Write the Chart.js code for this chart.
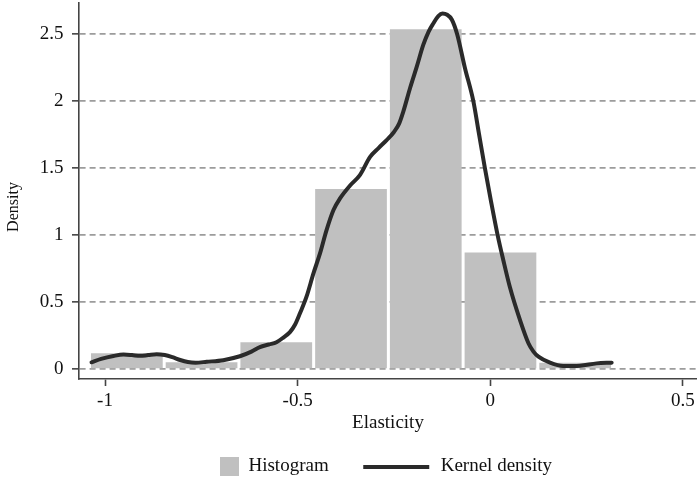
<!DOCTYPE html>
<html>
<head>
<meta charset="utf-8">
<script src="https://cdn.jsdelivr.net/npm/chart.js@4.4.0/dist/chart.umd.min.js"></script>
<style>
html,body{margin:0;padding:0;background:#fff;}
#wrap{width:697px;height:479px;}
</style>
</head>
<body>
<div id="wrap"><canvas id="c" width="697" height="479"></canvas></div>
<script>
// ---- data ----
const seriesNames = ['Histogram', 'Kernel density'];
const binCenters = [-0.9433, -0.7494, -0.5555, -0.3615, -0.1675, 0.0264, 0.2203];
const histDensity = [0.117, 0.050, 0.199, 1.344, 2.537, 0.869, 0.047];
const kdeX = [-1.035, -1.01, -0.978, -0.952, -0.93, -0.909, -0.888, -0.866, -0.845, -0.825,
  -0.805, -0.785, -0.765, -0.736, -0.693, -0.65, -0.62, -0.598, -0.575, -0.555,
  -0.537, -0.52, -0.507, -0.494, -0.477, -0.459, -0.442, -0.425, -0.407, -0.39,
  -0.364, -0.338, -0.312, -0.29, -0.269, -0.25, -0.237, -0.226, -0.208, -0.191,
  -0.174, -0.16, -0.148, -0.135, -0.124, -0.112, -0.1, -0.086, -0.066, -0.044,
  -0.029, -0.014, 0.002, 0.019, 0.034, 0.051, 0.077, 0.099, 0.112, 0.125,
  0.155, 0.189, 0.233, 0.276, 0.315];
const kdeY = [0.05, 0.075, 0.097, 0.108, 0.104, 0.098, 0.104, 0.110, 0.104, 0.088,
  0.067, 0.052, 0.047, 0.054, 0.066, 0.095, 0.13, 0.163, 0.183, 0.2,
  0.235, 0.275, 0.33, 0.416, 0.54, 0.714, 0.863, 1.037, 1.187, 1.274,
  1.37, 1.45, 1.584, 1.65, 1.709, 1.77, 1.83, 1.92, 2.1, 2.256,
  2.42, 2.52, 2.58, 2.635, 2.654, 2.645, 2.61, 2.5, 2.25, 2.0,
  1.75, 1.5, 1.25, 1.0, 0.81, 0.61, 0.366, 0.192, 0.13, 0.092,
  0.047, 0.022, 0.025, 0.042, 0.047];
const xTicks = [-1, -0.5, 0, 0.5];
const yTicks = [0, 0.5, 1, 1.5, 2, 2.5];
const xRange = [-1.0675, 0.5365];
const yRange = [-0.0747, 2.733];

// ---- styling ----
const BAR = '#c0c0c0';
const LINE = '#2a2a2a';
const AXIS = '#444444';
const TEXT = '#111111';

Chart.defaults.font.family = '"Liberation Serif", "Times New Roman", serif';
Chart.defaults.color = TEXT;

function makeSwatch(w, h, draw) {
  const c = document.createElement('canvas');
  c.width = w; c.height = h;
  draw(c.getContext('2d'));
  return c;
}
const SW = 94;
const histSwatch = makeSwatch(SW, 19, g => { g.fillStyle = BAR; g.fillRect(SW - 19, 0, 19, 19); });
const lineSwatch = makeSwatch(SW, 4, g => { g.fillStyle = LINE; g.fillRect(SW - 68, 0, 66, 4); });

// shift the y-axis title down along the axis (reference centres it lower)
function shiftYTitle(s) {
  if (s._titleShifted) return;
  const orig = s.drawTitle;
  s.drawTitle = function () {
    const t = this.top, b = this.bottom;
    this.top = t + 16; this.bottom = b + 16;
    orig.apply(this, arguments);
    this.top = t; this.bottom = b;
  };
  s._titleShifted = true;
}

new Chart(document.getElementById('c'), {
  type: 'bar',
  data: {
    datasets: [
      {
        type: 'bar',
        label: seriesNames[0],
        data: binCenters.map((x, i) => ({ x: x, y: histDensity[i] })),
        backgroundColor: BAR,
        borderWidth: 0,
        barPercentage: 0.96,
        categoryPercentage: 1,
        grouped: false,
        order: 2
      },
      {
        type: 'line',
        label: seriesNames[1],
        data: kdeX.map((x, i) => ({ x: x, y: kdeY[i] })),
        borderColor: LINE,
        backgroundColor: LINE,
        borderWidth: 4,
        pointRadius: 0,
        fill: false,
        cubicInterpolationMode: 'monotone',
        borderJoinStyle: 'round',
        borderCapStyle: 'round',
        order: 1
      }
    ]
  },
  options: {
    responsive: false,
    animation: false,
    layout: { padding: { top: 3, left: 0, right: 0, bottom: -7 }, autoPadding: false },
    scales: {
      x: {
        type: 'linear',
        min: xRange[0], max: xRange[1],
        offset: false,
        afterBuildTicks: s => { s.ticks = xTicks.map(v => ({ value: v })); },
        afterFit: s => { s.height = 69.5; s.paddingLeft = 0; s.paddingRight = 0; },
        grid: { display: true, offset: false, drawOnChartArea: false, drawTicks: true,
                tickLength: 7, tickWidth: 1.6, tickColor: AXIS },
        border: { display: true, color: AXIS, width: 1.6 },
        ticks: { padding: 4, font: { size: 19 }, color: TEXT, maxRotation: 0, autoSkip: false,
                 callback: v => String(v) },
        title: { display: true, text: 'Elasticity', font: { size: 19 }, color: TEXT,
                 padding: { top: 0, bottom: 14 } }
      },
      y: {
        type: 'linear',
        min: yRange[0], max: yRange[1],
        afterBuildTicks: s => { s.ticks = yTicks.map(v => ({ value: v })); },
        afterFit: s => { s.width = 79; s.paddingTop = 0; s.paddingBottom = 0; shiftYTitle(s); },
        grid: { color: '#9c9c9c', lineWidth: 1.7, drawTicks: true, tickLength: 7,
                tickWidth: 1.6, tickColor: AXIS, tickBorderDash: [] },
        border: { display: true, color: AXIS, width: 1.6, dash: [6, 4] },
        ticks: { padding: 8.5, font: { size: 19 }, color: TEXT, callback: v => String(v) },
        title: { display: true, text: 'Density', font: { size: 16 }, color: TEXT,
                 padding: { top: 4.3, bottom: 0 } }
      }
    },
    plugins: {
      tooltip: { enabled: false },
      legend: {
        display: true,
        position: 'bottom',
        labels: {
          font: { size: 19 },
          color: TEXT,
          usePointStyle: true,
          pointStyleWidth: SW,
          padding: 8.5,
          sort: (a, b) => a.datasetIndex - b.datasetIndex,
          generateLabels: chart => {
            const items = Chart.defaults.plugins.legend.labels.generateLabels(chart);
            items.forEach(it => { it.pointStyle = it.datasetIndex === 0 ? histSwatch : lineSwatch; });
            return items;
          }
        }
      }
    }
  }
});
</script>
</body>
</html>
